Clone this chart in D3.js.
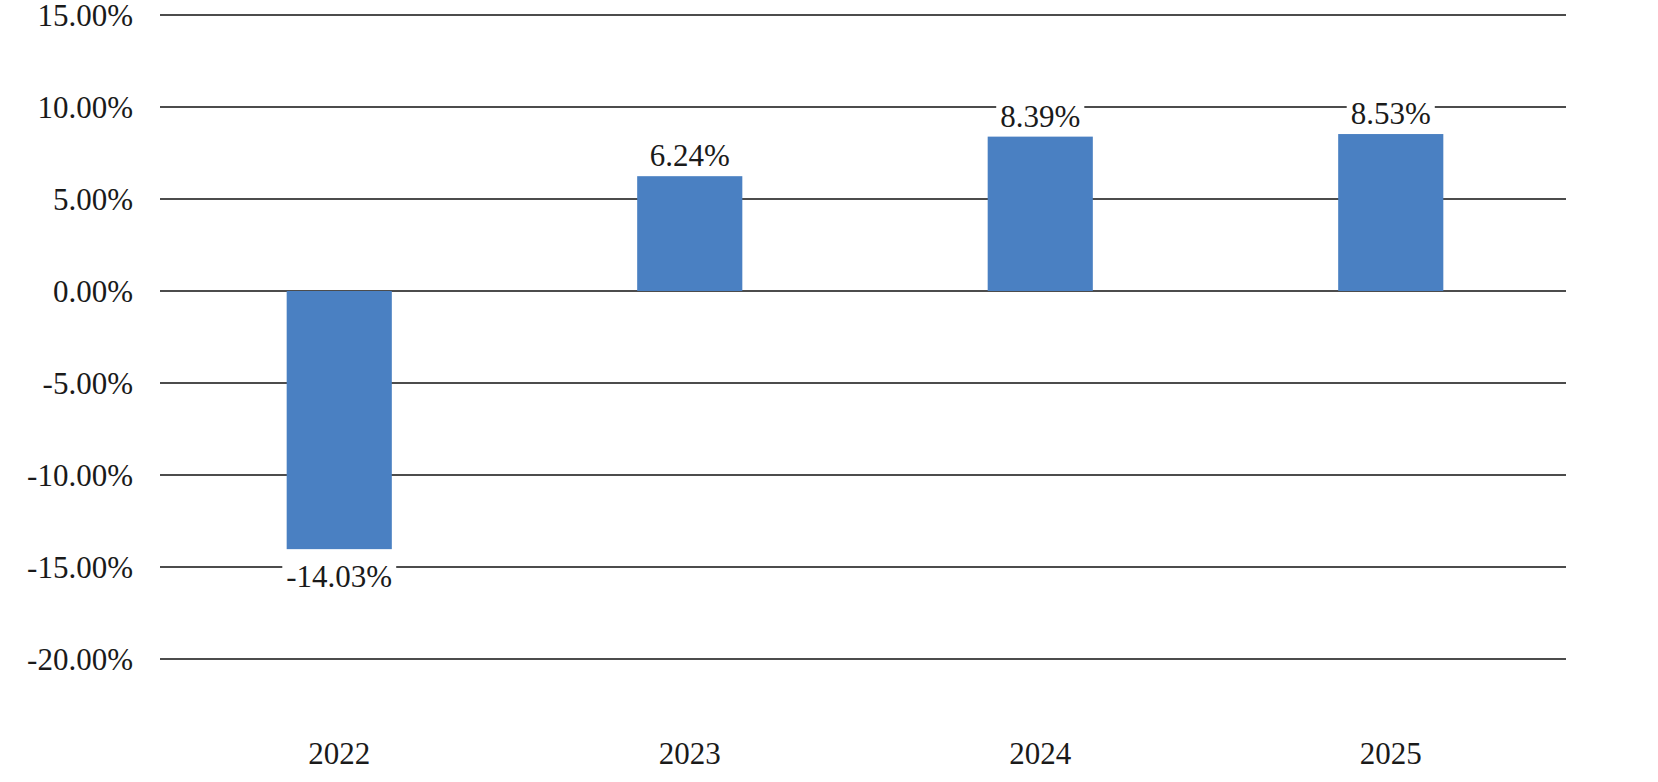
<!DOCTYPE html>
<html><head><meta charset="utf-8">
<script src="https://cdn.jsdelivr.net/npm/d3@7"></script>
<style>body{margin:0;background:#fff}svg{display:block}text{font-family:"Liberation Serif","Times New Roman",serif;fill:#1a1a1a}</style>
</head><body><svg width="1658" height="782"></svg>
<script>
const categories=["2022","2023","2024","2025"];
const values=[-14.03,6.24,8.39,8.53];
const ticks=[15,10,5,0,-5,-10,-15,-20];
const svg=d3.select("svg");
const x=d3.scaleBand().domain(categories).range([164,1566]).paddingInner(0.7).paddingOuter(0.35);
const y=d3.scaleLinear().domain([-20,15]).range([659,15]);
svg.append("g").selectAll("line").data(ticks).join("line")
 .attr("x1",160).attr("x2",1566).attr("y1",d=>y(d)).attr("y2",d=>y(d))
 .attr("stroke","#111").attr("stroke-width",1.6);
svg.append("g").selectAll("text").data(ticks).join("text")
 .attr("x",133).attr("y",d=>y(d)+11).attr("text-anchor","end").attr("font-size",31)
 .text(d=>d.toFixed(2)+"%");
svg.append("g").selectAll("rect").data(values).join("rect")
 .attr("x",(d,i)=>x(categories[i])).attr("width",x.bandwidth())
 .attr("y",d=>y(Math.max(0,d))).attr("height",d=>Math.abs(y(d)-y(0)))
 .attr("fill","#4a80c2");
const lg=svg.append("g");
values.forEach((v,i)=>{
 const cx=x(categories[i])+x.bandwidth()/2;
 const by=v>=0?y(v)-10:y(v)+38;
 const t=lg.append("text").attr("x",cx).attr("y",by).attr("text-anchor","middle").attr("font-size",31).text(v.toFixed(2)+"%");
 const b=t.node().getBBox();
 lg.insert("rect","text").attr("x",b.x-4).attr("y",b.y).attr("width",b.width+8).attr("height",b.height).attr("fill","#fff");
});
svg.append("g").selectAll("text").data(categories).join("text")
 .attr("x",d=>x(d)+x.bandwidth()/2).attr("y",764).attr("text-anchor","middle").attr("font-size",31).text(d=>d);
</script></body></html>
